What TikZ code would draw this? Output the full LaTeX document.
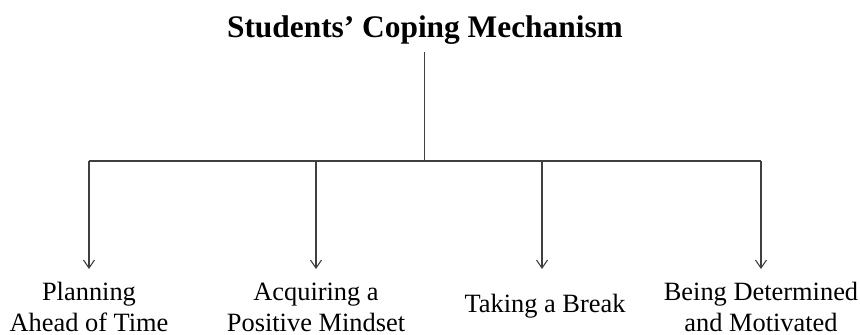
\documentclass[tikz,border=0pt]{standalone}
\usepackage{fontspec}
\setmainfont{Liberation Serif}
\usetikzlibrary{arrows.meta}
\begin{document}
\begin{tikzpicture}[x=1bp,y=-1bp,
  wire/.style={draw=black!75,line width=1.4bp},
  down/.style={wire,-{Straight Barb[length=8bp,width=11bp,line width=1.1bp]}},
  heading/.style={font=\fontsize{31.5}{36}\selectfont\bfseries,anchor=base,inner sep=0pt},
  leaf/.style={font=\fontsize{26.5}{31}\selectfont,align=center,anchor=base,inner sep=0pt}]
  \useasboundingbox (0,0) rectangle (860,334);
  % title and trunk
  \node[heading] (root) at (425,37) {Students’ Coping Mechanism};
  \coordinate (top) at (424.5,52);
  \coordinate (hub) at (424.5,161);
  % branch points on the crossbar
  \coordinate (b1) at (89,161);
  \coordinate (b2) at (316,161);
  \coordinate (b3) at (542,161);
  \coordinate (b4) at (761,161);
  % arrow ends
  \coordinate (e1) at (89,269);
  \coordinate (e2) at (316,269);
  \coordinate (e3) at (542,269);
  \coordinate (e4) at (761,269);
  % leaf labels (base anchor sits on the last line)
  \node[leaf] (l1) at (89,331) {Planning\\Ahead of Time};
  \node[leaf] (l2) at (316,331) {Acquiring a\\Positive Mindset};
  \node[leaf] (l3) at (545,312) {Taking a Break};
  \node[leaf] (l4) at (761,331) {Being Determined\\and Motivated};
  % connectors
  \draw[wire] (top) -- (hub);
  \draw[wire] (b1) -- (b4);
  \draw[down] (b1) -- (e1);
  \draw[down] (b2) -- (e2);
  \draw[down] (b3) -- (e3);
  \draw[down] (b4) -- (e4);
\end{tikzpicture}
\end{document}
